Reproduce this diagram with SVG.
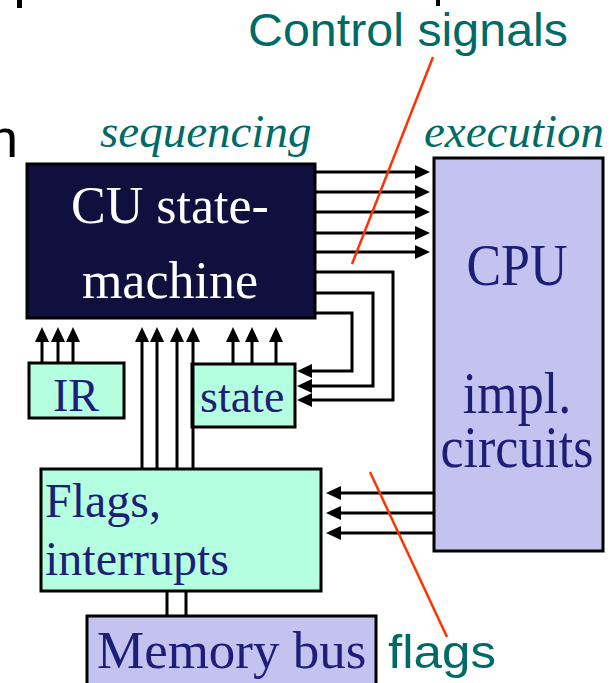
<svg xmlns="http://www.w3.org/2000/svg" width="615" height="683" viewBox="0 0 615 683">
<defs>
<style>
.box{stroke:#000;stroke-width:3}
.cu{fill:#10103F}
.lav{fill:#C4C3F0}
.mint{fill:#B3FFE0}
.wire{stroke:#000;stroke-width:3;fill:none}
.ptr{stroke:#FF3300;stroke-width:2.5;fill:none}
.serif{font-family:"Liberation Serif","Times New Roman",serif}
.sans{font-family:"Liberation Sans",Arial,sans-serif}
.navy{fill:#1E1E78}
.teal{fill:#006B66}
</style>
<marker id="ah" markerUnits="userSpaceOnUse" markerWidth="16" markerHeight="15" refX="0" refY="7" orient="auto">
<path d="M0,0 L15,7 L0,14 z" fill="#000"/>
</marker>
</defs>
<rect width="615" height="683" fill="#fff"/>

<g id="fragments">
<rect x="17" y="0" width="5" height="8" fill="#000"/>
<rect x="436" y="0" width="4" height="6" fill="#000"/>
<text x="-12" y="157" class="sans" font-size="54" fill="#000">n</text>
</g>

<g id="labels">
<text x="248" y="46" class="sans teal" font-size="46" textLength="320" lengthAdjust="spacingAndGlyphs">Control signals</text>
<text x="100" y="147" class="serif teal" font-size="47" font-style="italic">sequencing</text>
<text x="424" y="147" class="serif teal" font-size="47" font-style="italic">execution</text>
<text x="388" y="668" class="sans teal" font-size="46" textLength="108" lengthAdjust="spacingAndGlyphs">flags</text>
</g>

<g id="cu">
<rect x="27" y="164" width="288" height="154" class="box cu"/>
<text x="170" y="223" class="serif" font-size="52" fill="#fff" text-anchor="middle">CU state-</text>
<text x="170" y="298" class="serif" font-size="52" fill="#fff" text-anchor="middle">machine</text>
</g>

<g id="cpu">
<rect x="434" y="158" width="169" height="393" class="box lav"/>
<text transform="matrix(1,0,0,1.15,517,285)" x="0" y="0" class="serif navy" font-size="52" text-anchor="middle">CPU</text>
<text transform="matrix(1,0,0,1.15,517,413)" x="0" y="0" class="serif navy" font-size="52" text-anchor="middle">impl.</text>
<text transform="matrix(1,0,0,1.15,517,467)" x="0" y="0" class="serif navy" font-size="52" text-anchor="middle">circuits</text>
</g>

<g id="ir">
<rect x="29" y="363" width="95" height="55" class="box mint"/>
<text x="53" y="411" class="serif navy" font-size="46">IR</text>
</g>

<g id="state">
<rect x="192" y="364" width="103" height="63" class="box mint"/>
<text x="200" y="412" class="serif navy" font-size="46">state</text>
</g>

<g id="flags">
<rect x="41" y="469" width="280" height="122" class="box mint"/>
<text x="45" y="517" class="serif navy" font-size="48">Flags,</text>
<text x="45" y="575" class="serif navy" font-size="48">interrupts</text>
</g>

<g id="membus">
<rect x="87" y="616" width="289" height="80" class="box lav"/>
<text x="97" y="668" class="serif navy" font-size="53">Memory bus</text>
</g>

<g id="connectors">
<path class="wire" marker-end="url(#ah)" d="M315,172 H415"/>
<path class="wire" marker-end="url(#ah)" d="M315,192 H415"/>
<path class="wire" marker-end="url(#ah)" d="M315,212 H415"/>
<path class="wire" marker-end="url(#ah)" d="M315,233 H415"/>
<path class="wire" marker-end="url(#ah)" d="M315,252 H415"/>
<path class="wire" marker-end="url(#ah)" d="M315,272 H393 V400 H312"/>
<path class="wire" marker-end="url(#ah)" d="M315,293 H373 V386 H312"/>
<path class="wire" marker-end="url(#ah)" d="M315,313 H352 V371 H312"/>
<path class="wire" marker-end="url(#ah)" d="M42,363 V342"/>
<path class="wire" marker-end="url(#ah)" d="M58,363 V342"/>
<path class="wire" marker-end="url(#ah)" d="M73,363 V342"/>
<path class="wire" marker-end="url(#ah)" d="M142,469 V342"/>
<path class="wire" marker-end="url(#ah)" d="M157,469 V342"/>
<path class="wire" marker-end="url(#ah)" d="M177,469 V342"/>
<path class="wire" marker-end="url(#ah)" d="M193,469 V342"/>
<path class="wire" marker-end="url(#ah)" d="M233,364 V342"/>
<path class="wire" marker-end="url(#ah)" d="M252,364 V342"/>
<path class="wire" marker-end="url(#ah)" d="M276,364 V342"/>
<path class="wire" marker-end="url(#ah)" d="M434,493 H341"/>
<path class="wire" marker-end="url(#ah)" d="M434,513 H341"/>
<path class="wire" marker-end="url(#ah)" d="M434,533 H341"/>
<path class="wire" d="M167,591 V616 M186,591 V616"/>
<path class="ptr" d="M433,57 L352,264"/>
<path class="ptr" d="M370,472 L447,637"/>
</g>
</svg>
